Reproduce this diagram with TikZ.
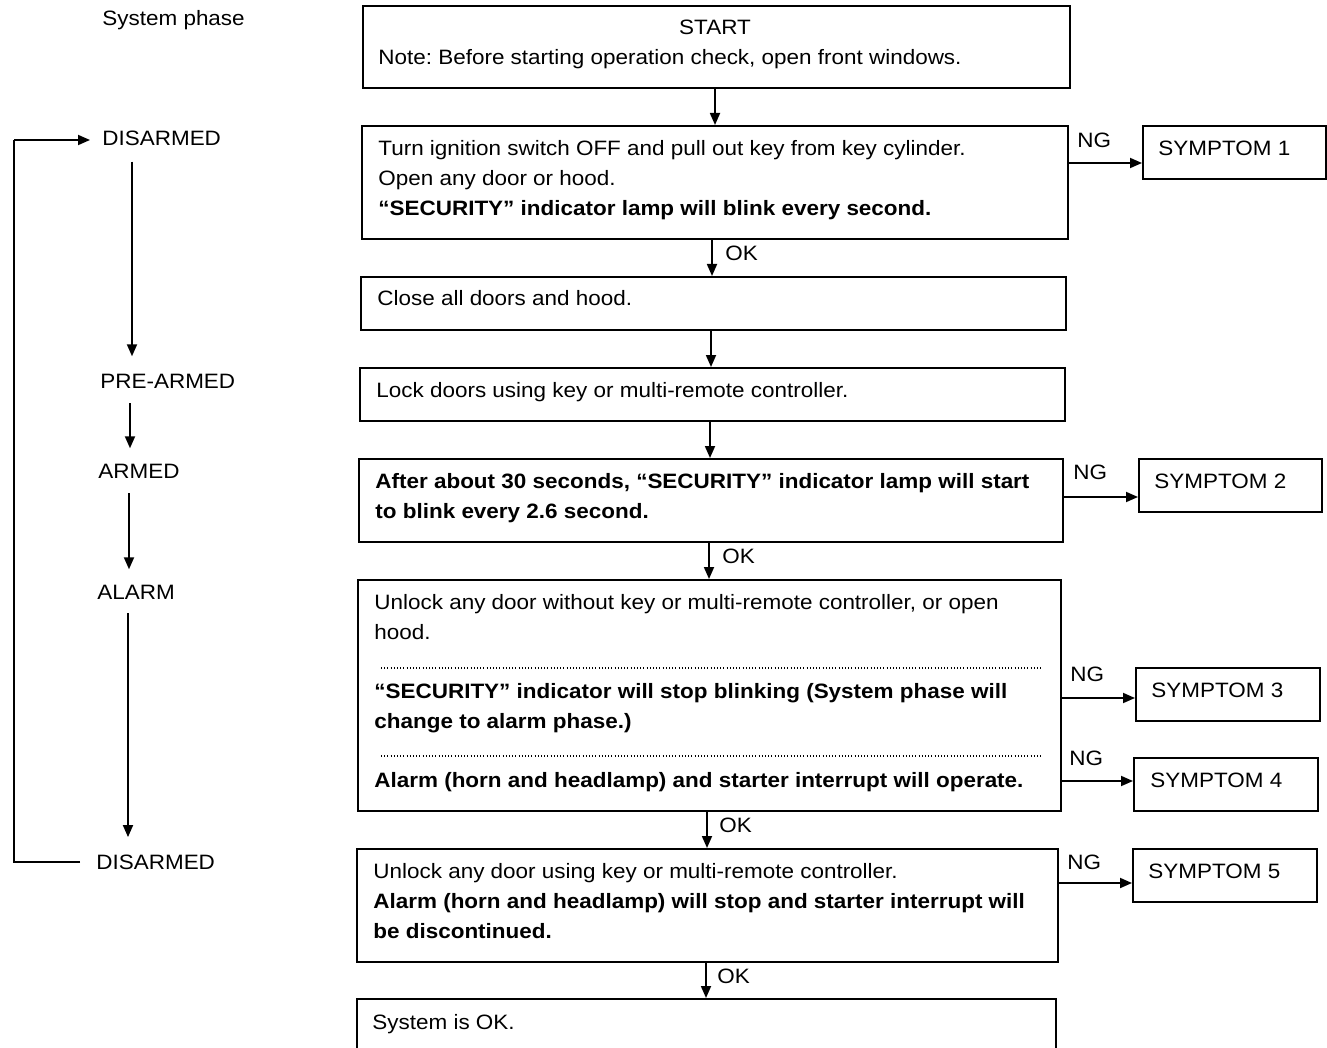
\documentclass[tikz,border=0pt]{standalone}
\usepackage{fontspec}
\setmainfont{Liberation Sans}[FakeStretch=1.08]
\usetikzlibrary{arrows.meta}
\frenchspacing
\tikzset{
  box/.style={draw, line width=0.95pt, rectangle, inner sep=0pt, anchor=north west},
  txt/.style={anchor=base west, inner sep=0pt, font=\fontsize{10.4}{12}\selectfont},
  btxt/.style={anchor=base west, inner sep=0pt, font=\fontsize{10.4}{12}\selectfont\bfseries},
  arr/.style={line width=0.9pt, -{Triangle[length=6pt,width=5pt]}},
  ln/.style={line width=0.9pt},
  dots/.style={line width=0.7pt, dash pattern=on 0.4pt off 1.2pt}
}
\begin{document}
\begin{tikzpicture}[x=0.5pt,y=-0.5pt]
\useasboundingbox (0,0) rectangle (1327,1048);
\fill[white] (0,0) rectangle (1327,1048);
\clip (0,0) rectangle (1327,1048);

% ---------- main boxes ----------
\node[box, minimum width=353.5pt, minimum height=41pt] (b1) at (362,5) {};
\node[box, minimum width=353pt, minimum height=56.5pt] (b2) at (361,125) {};
\node[box, minimum width=352.5pt, minimum height=26.5pt] (b3) at (360,276) {};
\node[box, minimum width=352.5pt, minimum height=26.5pt] (b4) at (359,367) {};
\node[box, minimum width=352pt, minimum height=41.5pt] (b5) at (358,458) {};
\node[box, minimum width=351.5pt, minimum height=115.5pt] (b6) at (357,579) {};
\node[box, minimum width=350.5pt, minimum height=56.5pt] (b7) at (356,848) {};
\node[box, minimum width=349.5pt, minimum height=40pt] (b8) at (356,998) {};

% ---------- symptom boxes ----------
\node[box, minimum width=91.5pt, minimum height=26.5pt] (s1) at (1142,125) {};
\node[box, minimum width=91.5pt, minimum height=26.5pt] (s2) at (1138,458) {};
\node[box, minimum width=92pt, minimum height=26.5pt] (s3) at (1135,667) {};
\node[box, minimum width=92pt, minimum height=26.5pt] (s4) at (1133,757) {};
\node[box, minimum width=92pt, minimum height=26.5pt] (s5) at (1132,848) {};

% ---------- texts in main boxes ----------
\node[txt, anchor=base] (t1a) at (715,35) {START};
\node[txt] (t1b) at (378,65) {Note: Before starting operation check, open front windows.};

\node[txt] (t2a) at (378,156) {Turn ignition switch OFF and pull out key from key cylinder.};
\node[txt] (t2b) at (378,186) {Open any door or hood.};
\node[btxt] (t2c) at (378,216) {“SECURITY” indicator lamp will blink every second.};

\node[txt] (t3) at (377,306) {Close all doors and hood.};
\node[txt] (t4) at (376,397) {Lock doors using key or multi-remote controller.};

\node[btxt] (t5a) at (375,488) {After about 30 seconds, “SECURITY” indicator lamp will start};
\node[btxt] (t5b) at (375,518) {to blink every 2.6 second.};

\node[txt] (t6a) at (374,609) {Unlock any door without key or multi-remote controller, or open};
\node[txt] (t6b) at (374,639) {hood.};
\node[btxt] (t6c) at (374,698) {“SECURITY” indicator will stop blinking (System phase will};
\node[btxt] (t6d) at (374,728) {change to alarm phase.)};
\node[btxt] (t6e) at (374,787) {Alarm (horn and headlamp) and starter interrupt will operate.};
\coordinate (d1l) at (381,668); \coordinate (d1r) at (1042,668);
\coordinate (d2l) at (381,756); \coordinate (d2r) at (1042,756);
\draw[dots] (d1l) -- (d1r);
\draw[dots] (d2l) -- (d2r);

\node[txt] (t7a) at (373,878) {Unlock any door using key or multi-remote controller.};
\node[btxt] (t7b) at (373,908) {Alarm (horn and headlamp) will stop and starter interrupt will};
\node[btxt] (t7c) at (373,938) {be discontinued.};

\node[txt] (t8) at (372,1029) {System is OK.};

% ---------- symptom texts ----------
\node[txt] (st1) at (1158,156) {SYMPTOM 1};
\node[txt] (st2) at (1154,488) {SYMPTOM 2};
\node[txt] (st3) at (1151,697) {SYMPTOM 3};
\node[txt] (st4) at (1150,787) {SYMPTOM 4};
\node[txt] (st5) at (1148,878) {SYMPTOM 5};

% ---------- vertical arrows ----------
\draw[arr] (b1.south -| 715,0) -- (b2.north -| 715,0);
\draw[arr] (b2.south -| 712,0) -- (b3.north -| 712,0);
\draw[arr] (b3.south -| 711,0) -- (b4.north -| 711,0);
\draw[arr] (b4.south -| 710,0) -- (b5.north -| 710,0);
\draw[arr] (b5.south -| 709,0) -- (b6.north -| 709,0);
\draw[arr] (b6.south -| 707,0) -- (b7.north -| 707,0);
\draw[arr] (b7.south -| 706,0) -- (b8.north -| 706,0);

\node[txt] (ok1) at (725,261) {OK};
\node[txt] (ok2) at (722,563) {OK};
\node[txt] (ok3) at (719,832) {OK};
\node[txt] (ok4) at (717,983) {OK};

% ---------- NG arrows ----------
\draw[arr] (b2.east |- 0,163) -- (s1.west |- 0,163);
\draw[arr] (b5.east |- 0,497) -- (s2.west |- 0,497);
\draw[arr] (b6.east |- 0,698) -- (s3.west |- 0,698);
\draw[arr] (b6.east |- 0,781) -- (s4.west |- 0,781);
\draw[arr] (b7.east |- 0,883) -- (s5.west |- 0,883);

\node[txt] (ng1) at (1077,148) {NG};
\node[txt] (ng2) at (1073,479) {NG};
\node[txt] (ng3) at (1070,681) {NG};
\node[txt] (ng4) at (1069,765) {NG};
\node[txt] (ng5) at (1067,869) {NG};

% ---------- system phase column ----------
\node[txt] (ph) at (102,26) {System phase};
\node[txt] (p1) at (102,146) {DISARMED};
\node[txt] (p2) at (100,388) {PRE-ARMED};
\node[txt] (p3) at (98,478) {ARMED};
\node[txt] (p4) at (97,599) {ALARM};
\node[txt] (p5) at (96,869) {DISARMED};

\draw[arr] ([yshift=-7.5pt]p1.south -| 132,0) -- ([yshift=8.5pt]p2.north -| 132,0);
\draw[arr] ([yshift=-7.5pt]p2.south -| 130,0) -- ([yshift=7.5pt]p3.north -| 130,0);
\draw[arr] ([yshift=-7.5pt]p3.south -| 129,0) -- ([yshift=7.5pt]p4.north -| 129,0);
\draw[arr] ([yshift=-7pt]p4.south -| 128,0) -- ([yshift=8.5pt]p5.north -| 128,0);

\coordinate (lb) at (14,862);
\coordinate (lt) at (14,140);
\draw[ln] ([xshift=-8pt]p5.west |- 0,862) -- (lb) -- (lt);
\draw[arr] (lt) -- ([xshift=-6pt]p1.west |- 0,140);
\end{tikzpicture}
\end{document}
